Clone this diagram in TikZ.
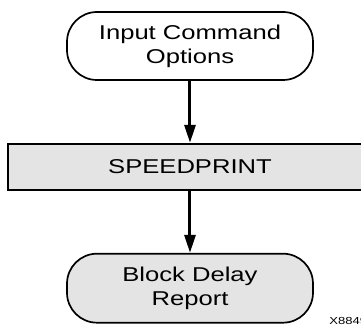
\documentclass[tikz,border=0pt]{standalone}
\usepackage{fontspec}
\setmainfont{Liberation Sans}
\newfontfamily\flowfont[FakeStretch=1.28]{Liberation Sans}
\usetikzlibrary{arrows.meta,positioning}
\definecolor{PaleGray}{HTML}{E4E4E4}

\begin{document}
\begin{tikzpicture}[
  every node/.style={font=\flowfont\fontsize{10}{12}\selectfont,align=center},
  term/.style={rectangle,rounded corners=15pt,draw=black,line width=0.85pt,
    minimum width=123pt,minimum height=34pt,inner sep=0pt},
  tool/.style={rectangle,draw=black,line width=1pt,fill=PaleGray,
    minimum width=182pt,minimum height=23pt,inner sep=0pt},
  arrow/.style={-{Triangle[length=9pt,width=5.5pt]},line width=1.5pt}
]
\useasboundingbox (0,0) rectangle (180.5pt,-163pt);
\node[term] (opt) at (95pt,-23pt) {Input Command\\Options};
\node[tool,below=31pt of opt] (spd) {SPEEDPRINT};
\node[term,fill=PaleGray,minimum height=34.5pt,below=31pt of spd] (rep) {Block Delay\\Report};
\node[font=\flowfont\fontsize{5.1}{6}\selectfont,anchor=base west,inner sep=0pt] (fig) at (164.5pt,-162.3pt) {X8849};
\draw[arrow] (opt) -- (spd);
\draw[arrow] (spd) -- (rep);
\end{tikzpicture}
\end{document}
